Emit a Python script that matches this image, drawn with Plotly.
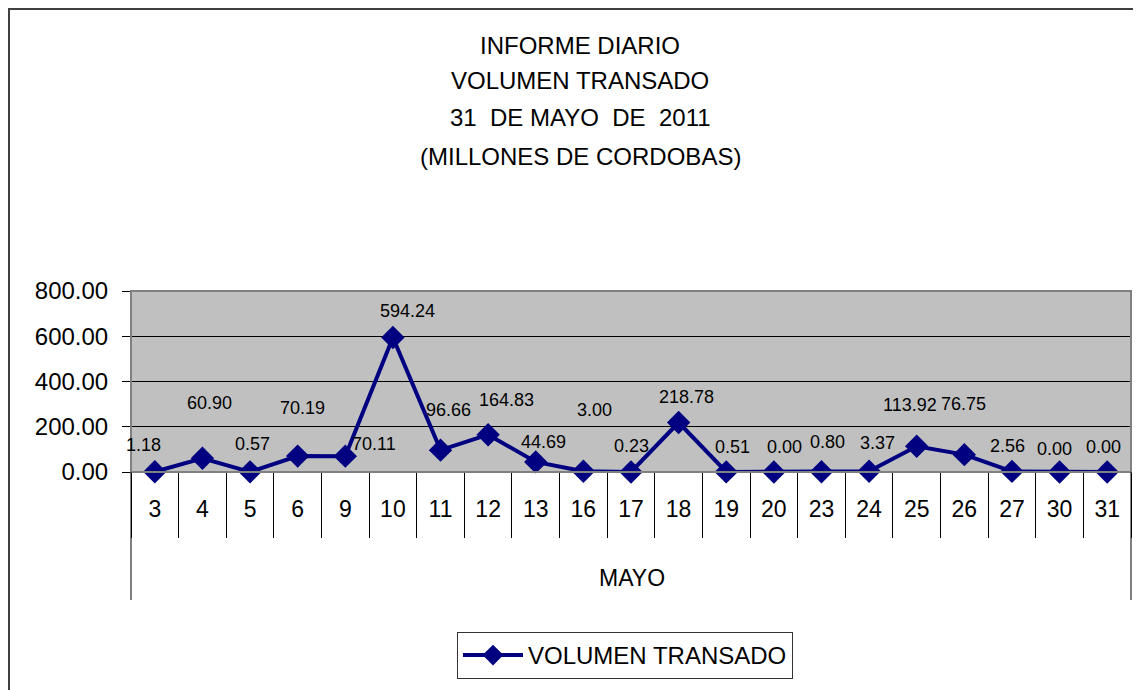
import plotly.graph_objects as go

days = ["3", "4", "5", "6", "9", "10", "11", "12", "13", "16", "17", "18",
        "19", "20", "23", "24", "25", "26", "27", "30", "31"]
volumen = [1.18, 60.90, 0.57, 70.19, 70.11, 594.24, 96.66, 164.83, 44.69, 3.00, 0.23,
           218.78, 0.51, 0.00, 0.80, 3.37, 113.92, 76.75, 2.56, 0.00, 0.00]
series_name = "VOLUMEN TRANSADO"
title_lines = ["INFORME DIARIO", "VOLUMEN TRANSADO", "31  DE MAYO  DE  2011", "(MILLONES DE CORDOBAS)"]
group_label = "MAYO"
y_ticks = [0, 200, 400, 600, 800]

# label offsets in pixels (style only)
label_dx = [-11, 7, 2, 5, 29, 15, 8, 18, 8, 11, 0, 8, 6, 11, 6, 8, -7, -1, -4, -5, -4]
label_dy = [27, 55, 28, 48, 12, 27, 40, 35, 20, 61, 26, 26, 25, 25, 30, 28, 41, 51, 25, 23, 25]

OFF = 8  # page body margin
W, H = 1133, 682
L = 131 - OFF
T = 291 - OFF
R = W - (1131 - OFF)
B = H - (472 - OFF)
PW, PH = W - L - R, H - T - B


def px(xref_px):
    return (xref_px - OFF - L) / PW


def py(yref_px):
    return (H - B - (yref_px - OFF)) / PH


FONT = "Liberation Sans, Arial, sans-serif"
NAVY = "#000080"

fig = go.Figure()
fig.add_trace(go.Scatter(
    x=days, y=volumen, mode="lines+markers", name=series_name,
    line=dict(color=NAVY, width=4),
    marker=dict(symbol="diamond", size=18, color=NAVY),
    cliponaxis=False,
))

annotations = []
for i, (v, dx, dy) in enumerate(zip(volumen, label_dx, label_dy)):
    annotations.append(dict(
        x=i, y=v, xref="x", yref="y", text=f"{v:.2f}", showarrow=False,
        xshift=dx, yshift=dy, font=dict(family=FONT, size=18, color="black"),
        xanchor="center", yanchor="middle",
    ))

title_y = [45, 80, 117, 157]
for line, yy in zip(title_lines, title_y):
    annotations.append(dict(
        x=px(580), y=py(yy), xref="paper", yref="paper", text=line, showarrow=False,
        font=dict(family=FONT, size=24, color="black"), xanchor="center", yanchor="middle",
    ))

annotations.append(dict(
    x=px(632), y=py(578), xref="paper", yref="paper", text=group_label, showarrow=False,
    font=dict(family=FONT, size=23, color="black"), xanchor="center", yanchor="middle",
))

# outer border: as close to the page edge as the canvas allows
bx0 = -L / PW + 1 / PW
by1 = (H - B) / PH - 1 / PH
shapes = [
    dict(type="rect", xref="paper", yref="paper", x0=bx0, x1=px(1160), y0=py(710), y1=by1,
         line=dict(color="#404040", width=2), layer="below"),
    dict(type="rect", xref="paper", yref="paper", x0=0, x1=1, y0=0, y1=1,
         line=dict(color="#808080", width=2), layer="above"),
    dict(type="line", xref="paper", yref="paper", x0=0, x1=0, y0=0, y1=py(600),
         line=dict(color="black", width=1)),
    dict(type="line", xref="paper", yref="paper", x0=1, x1=1, y0=0, y1=py(600),
         line=dict(color="black", width=1)),
]

fig.update_layout(
    width=W, height=H,
    margin=dict(l=L, r=R, t=T, b=B, pad=0, autoexpand=False),
    paper_bgcolor="white", plot_bgcolor="#C0C0C0",
    font=dict(family=FONT, size=22, color="black"),
    showlegend=True,
    legend=dict(
        x=px(457), y=py(632), xanchor="left", yanchor="top",
        bordercolor="#333333", borderwidth=1, bgcolor="white",
        font=dict(family=FONT, size=24, color="black"),
        itemwidth=60,
    ),
    annotations=annotations,
    shapes=shapes,
)

fig.update_xaxes(
    type="category", categoryorder="array", categoryarray=days,
    range=[-0.5, len(days) - 0.5],
    showgrid=False, zeroline=False,
    showline=True, linecolor="black", linewidth=1,
    ticks="outside", tickson="boundaries", ticklen=65, tickcolor="black", tickwidth=1,
    ticklabelstandoff=16,
    tickfont=dict(family=FONT, size=23, color="black"),
    automargin=False,
)
fig.update_yaxes(
    range=[0, 800], tickvals=y_ticks, tickformat=".2f",
    showgrid=True, gridcolor="black", gridwidth=1,
    zeroline=False,
    showline=True, linecolor="black", linewidth=1,
    ticks="outside", ticklen=8, tickcolor="black",
    ticklabelstandoff=9,
    tickfont=dict(family=FONT, size=24, color="black"),
    automargin=False,
)

fig.write_html("out.html")
